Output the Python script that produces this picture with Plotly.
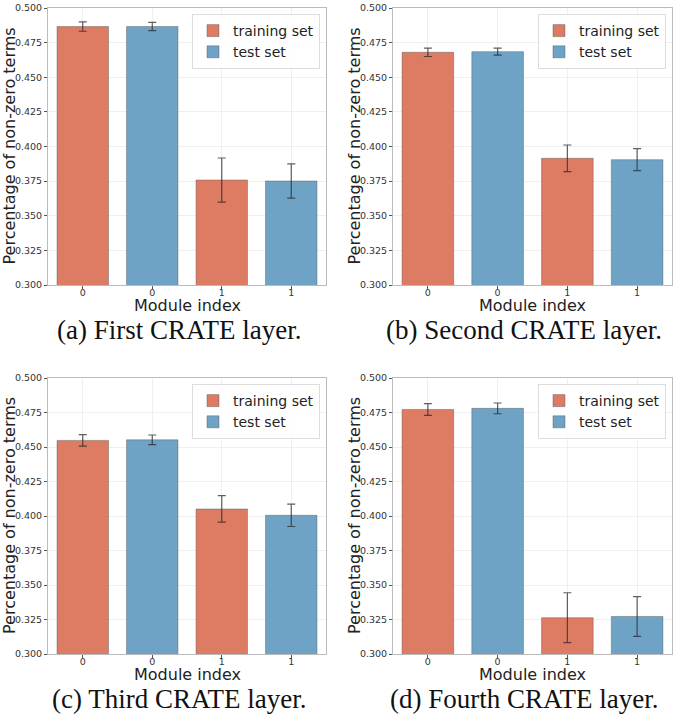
import plotly.graph_objects as go

# bar order inside each panel: train 0, test 0, train 1, test 1
tick_labels = ["0", "0", "1", "1"]
captions = ["(a) First CRATE layer.", "(b) Second CRATE layer.",
            "(c) Third CRATE layer.", "(d) Fourth CRATE layer."]

train_vals = [[0.4866, 0.3758], [0.4680, 0.3915], [0.4548, 0.4051], [0.4772, 0.3263]]
train_err = [[0.0034, 0.0159], [0.0030, 0.0096], [0.0042, 0.0096], [0.0043, 0.0181]]
test_vals = [[0.4866, 0.3751], [0.4685, 0.3905], [0.4552, 0.4005], [0.4780, 0.3272]]
test_err = [[0.0030, 0.0124], [0.0025, 0.0079], [0.0035, 0.0081], [0.0039, 0.0144]]

train_color = "#DE7B63"
test_color = "#6FA3C6"

W, H = 676, 714
# plot areas in pixels: (left, right, top, bottom)
boxes = [(48, 326, 8, 285), (393, 672, 8, 285), (48, 326, 378, 654), (393, 672, 378, 654)]

fig = go.Figure()

for i in range(4):
    sfx = "" if i == 0 else str(i + 1)
    xa, ya = "x" + sfx, "y" + sfx
    leg = "legend" + sfx
    for name, vals, errs, color, pos in [
        ("training set", train_vals[i], train_err[i], train_color, [0, 2]),
        ("test set", test_vals[i], test_err[i], test_color, [1, 3]),
    ]:
        fig.add_trace(go.Bar(
            x=pos, y=vals, name=name, xaxis=xa, yaxis=ya, legend=leg,
            marker=dict(color=color, line=dict(color="rgba(90,90,90,0.45)", width=1)),
            error_y=dict(type="data", array=errs, color="rgba(40,40,40,0.75)",
                         thickness=1.2, width=4),
            width=0.74,
        ))

    l, r, t, b = boxes[i]
    dom_x = [l / W, r / W]
    dom_y = [1 - b / H, 1 - t / H]
    axis_style = dict(
        ticks="outside", ticklen=3, tickcolor="#555", tickfont=dict(size=9.5, color="#333"),
        showgrid=True, gridcolor="#EFEFEF", zeroline=False, automargin=False,
        showline=True, linecolor="#BBBBBB", mirror=True, linewidth=1,
    )
    fig.update_layout(**{
        "xaxis" + sfx: dict(
            domain=dom_x, anchor=ya, range=[-0.5, 3.5], ticklabelstandoff=-4,
            tickmode="array", tickvals=[0, 1, 2, 3], ticktext=tick_labels, **axis_style,
        ),
        "yaxis" + sfx: dict(
            domain=dom_y, anchor=xa, range=[0.3, 0.5],
            tickvals=[0.3, 0.325, 0.35, 0.375, 0.4, 0.425, 0.45, 0.475, 0.5],
            tickformat=".3f", **axis_style,
        ),
        leg: dict(
            x=(r - 6) / W, y=1 - (t + 6) / H, xanchor="right", yanchor="top",
            bgcolor="rgba(255,255,255,0.85)", bordercolor="#DDDDDD", borderwidth=1,
            font=dict(size=14, color="#222"), tracegroupgap=0,
        ),
    })
    # axis titles
    fig.add_annotation(
        text="Module index", x=(l + r) / 2 / W, y=1 - (b + 20) / H,
        xref="paper", yref="paper", xanchor="center", yanchor="middle",
        showarrow=False, font=dict(size=16, color="#222"),
    )
    fig.add_annotation(
        text="Percentage of non-zero terms", x=(l - 39) / W, y=1 - (t + b) / 2 / H,
        xref="paper", yref="paper", xanchor="center", yanchor="middle", textangle=-90,
        showarrow=False, font=dict(size=16, color="#222"),
    )
    fig.add_annotation(
        text=captions[i], x=(l + r) / 2 / W - 0.012, y=1 - (b + 45) / H,
        xref="paper", yref="paper", xanchor="center", yanchor="middle",
        showarrow=False, font=dict(family="Liberation Serif", size=27, color="#111"),
    )

fig.update_layout(
    width=W, height=H,
    margin=dict(l=0, r=0, t=0, b=0),
    paper_bgcolor="white", plot_bgcolor="white",
    font=dict(family="DejaVu Sans"),
    barmode="overlay",
    showlegend=True,
)

# drop the page's default body margin so the figure fills the window
fig.write_html("out.html", config={"displayModeBar": False},
               post_script="document.body.style.margin='0';")
